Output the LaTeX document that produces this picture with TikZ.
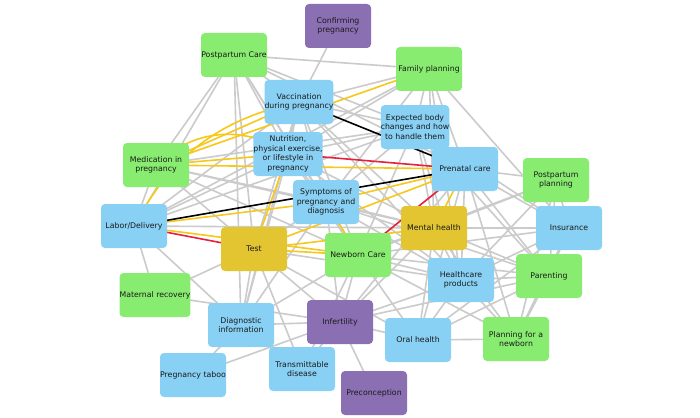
\documentclass[tikz,border=0pt]{standalone}
\usepackage{fontspec}
\setmainfont{DejaVu Sans}
\usetikzlibrary{backgrounds}
\definecolor{ngreen}{HTML}{88EC70}
\definecolor{nblue}{HTML}{88D0F4}
\definecolor{npurple}{HTML}{8A6FB2}
\definecolor{nyellow}{HTML}{E2C530}
\definecolor{egray}{HTML}{CBCBCB}
\definecolor{eyellow}{HTML}{F7C81A}
\definecolor{ered}{HTML}{E8203C}
\definecolor{ntext}{HTML}{1A1A1A}
\begin{document}
\begin{tikzpicture}[x=1pt,y=-1pt,
  box/.style={rounded corners=4pt, minimum width=66pt, minimum height=44pt, inner xsep=0pt, inner ysep=1pt,
    align=center, font=\fontsize{7.8}{9.6}\selectfont, text=ntext},
  gbox/.style={box, fill=ngreen},
  bbox/.style={box, fill=nblue},
  pbox/.style={box, fill=npurple},
  ybox/.style={box, fill=nyellow},
  gedge/.style={draw=egray, line width=1.6pt},
  yedge/.style={draw=eyellow, line width=1.6pt},
  redge/.style={draw=ered, line width=1.6pt},
  kedge/.style={draw=black, line width=1.6pt}]
\useasboundingbox (0,0) rectangle (700,417);
% nodes
\node[pbox] (CP) at (338,26) {Confirming\\pregnancy};
\node[gbox] (PC) at (234,55) {Postpartum Care};
\node[gbox] (FP) at (429,69) {Family planning};
\node[bbox] (VA) at (299,102) {Vaccination\\during pregnancy};
\node[bbox] (EB) at (415,127) {Expected body\\changes and how\\to handle them};
\node[bbox] (NU) at (288,154) {Nutrition,\\physical exercise,\\or lifestyle in\\pregnancy};
\node[gbox] (ME) at (156,165) {Medication in\\pregnancy};
\node[bbox] (PN) at (465,169) {Prenatal care};
\node[gbox] (PP) at (556,180) {Postpartum\\planning};
\node[bbox] (SY) at (326,202) {Symptoms of\\pregnancy and\\diagnosis};
\node[bbox] (LD) at (134,226) {Labor/Delivery};
\node[ybox] (MH) at (434,228) {Mental health};
\node[bbox] (IN) at (569,228) {Insurance};
\node[ybox] (TE) at (254,249) {Test};
\node[gbox] (NC) at (358,255) {Newborn Care};
\node[bbox] (HP) at (461,280) {Healthcare\\products};
\node[gbox] (PA) at (549,276) {Parenting};
\node[gbox] (MR) at (155,295) {Maternal recovery};
\node[bbox] (DI) at (241,325) {Diagnostic\\information};
\node[pbox] (IF) at (340,322) {Infertility};
\node[bbox] (OH) at (418,340) {Oral health};
\node[gbox] (PL) at (516,339) {Planning for a\\newborn};
\node[bbox] (PT) at (193,375) {Pregnancy taboo};
\node[bbox] (TD) at (302,369) {Transmittable\\disease};
\node[pbox] (PR) at (374,393) {Preconception};
% edges
\begin{scope}[on background layer]
\fill[white] (0,0) rectangle (700,417);
\foreach \a/\b in {CP/VA,
  PC/FP, PC/VA, PC/ME, PC/LD, PC/TE, PC/NU, PC/SY, PC/NC, PC/EB, PC/PN, PC/DI,
  FP/VA, FP/EB, FP/PN, FP/MH, FP/HP, FP/NU, FP/SY, FP/LD, FP/IN,
  VA/EB, VA/NU, VA/SY, VA/LD, VA/TE, VA/NC, VA/MH, VA/HP, VA/DI,
  EB/NU, EB/SY, EB/PN, EB/MH, EB/HP, EB/IN, EB/PA, EB/NC, EB/ME, EB/LD,
  NU/SY, NU/NC, NU/MH, NU/HP, NU/LD, NU/DI,
  ME/SY, ME/TE, ME/NC, ME/MH, ME/LD,
  PN/PP, PN/IN, PN/PA, PN/HP, PN/PL, PN/OH, PN/IF,
  PP/MH, PP/HP, PP/IN, PP/PA, PP/PL, PP/NC,
  SY/MH, SY/TE, SY/NC, SY/HP, SY/IF, SY/DI, SY/PA,
  LD/MR, LD/DI, LD/MH,
  MH/IN, MH/HP, MH/PA, MH/PL, MH/OH, MH/NC, MH/IF,
  IN/HP, IN/PA, IN/PL, IN/NC, IN/OH,
  TE/MR, TE/DI, TE/IF, TE/TD, TE/HP, TE/OH,
  NC/HP, NC/IF, NC/DI, NC/OH, NC/PA, NC/PL, NC/TD,
  HP/PA, HP/PL, HP/OH, HP/IF,
  PA/PL, PA/OH, PA/IF,
  MR/IF, DI/IF, DI/PT, DI/TD, IF/TD, IF/PR, IF/PT, IF/OH, OH/PL}
  \draw[gedge] (\a.center) -- (\b.center);
\foreach \a/\b in {FP/ME, VA/ME, ME/PN, LD/SY, LD/NC, SY/PN, TE/PN, MH/PN,
  TE/NC, TE/MH, TE/NU, NU/ME, SY/NC}
  \draw[yedge] (\a.center) -- (\b.center);
\draw[yedge] (ME.center) to[bend left=40] (NU.center);
\draw[yedge] (LD.center) to[bend left=25] (VA.center);
\foreach \a/\b in {NU/PN, LD/TE, NC/PN}
  \draw[redge] (\a.center) -- (\b.center);
\foreach \a/\b in {VA/PN, LD/PN}
  \draw[kedge] (\a.center) -- (\b.center);
\end{scope}
\end{tikzpicture}
\end{document}
